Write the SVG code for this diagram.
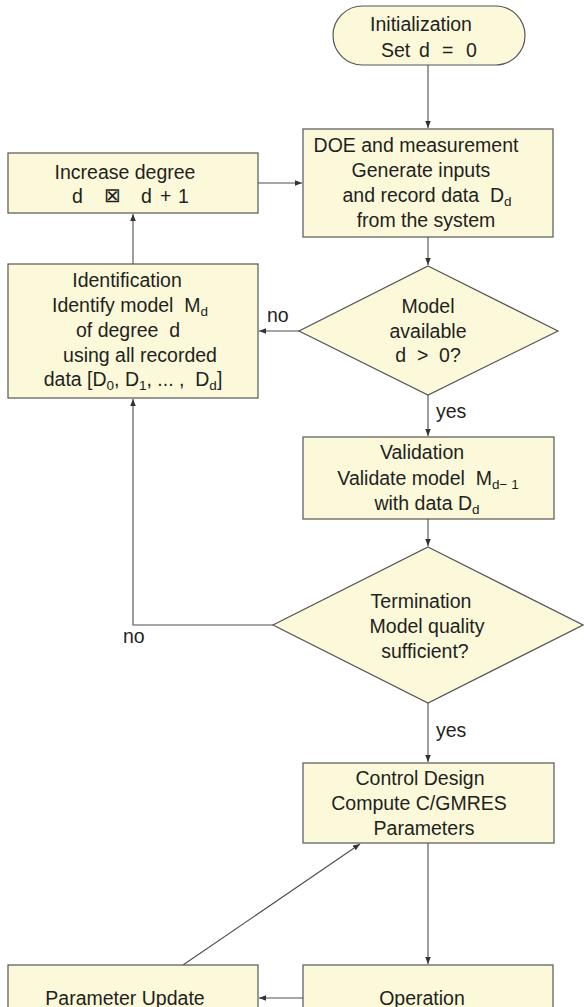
<svg xmlns="http://www.w3.org/2000/svg" width="584" height="1007" viewBox="0 0 584 1007">
<defs>
<style>
.n{fill:#FBF9DA;stroke:#555;stroke-width:1.2}
.t{font-family:"Liberation Sans",Arial,sans-serif;font-size:19.5px;fill:#231F20;text-anchor:middle;white-space:pre}
.l{font-family:"Liberation Sans",Arial,sans-serif;font-size:19.5px;fill:#231F20}
.s{font-size:13.5px}
.c{fill:none;stroke:#4d4d4d;stroke-width:1.1}
</style>
<marker id="ah" viewBox="0 0 10 10" refX="10" refY="5" markerWidth="7" markerHeight="7" markerUnits="userSpaceOnUse" orient="auto">
<path d="M0,1 L10,5 L0,9 z" fill="#333"/>
</marker>
</defs>
<rect width="584" height="1007" fill="#fff"/>
<g id="connectors">
<path class="c" d="M428,65 V128" marker-end="url(#ah)"/>
<path class="c" d="M258,183 H302" marker-end="url(#ah)"/>
<path class="c" d="M428,237 V265" marker-end="url(#ah)"/>
<path class="c" d="M299,331 H259" marker-end="url(#ah)"/>
<path class="c" d="M133,264 V214" marker-end="url(#ah)"/>
<path class="c" d="M428,395 V436" marker-end="url(#ah)"/>
<path class="c" d="M428,519 V546" marker-end="url(#ah)"/>
<path class="c" d="M273,625 H133 V399" marker-end="url(#ah)"/>
<path class="c" d="M428,703 V762" marker-end="url(#ah)"/>
<path class="c" d="M428,843 V964" marker-end="url(#ah)"/>
<path class="c" d="M303,998 H259" marker-end="url(#ah)"/>
<path class="c" d="M183,965 L360,844" marker-end="url(#ah)"/>
<text class="l" x="267" y="322">no</text>
<text class="l" x="436" y="418">yes</text>
<text class="l" x="123" y="643">no</text>
<text class="l" x="436" y="737">yes</text>
</g>
<g id="init">
<rect class="n" x="333" y="6" width="192" height="59" rx="29.5"/>
<text class="t" x="421" y="31">Initialization</text>
<text class="l" x="381" y="57">Set</text>
<text class="l" x="419" y="57">d</text>
<text class="l" x="442" y="57">=</text>
<text class="l" x="466" y="57">0</text>
</g>
<g id="doe">
<rect class="n" x="303" y="129" width="250" height="108"/>
<text class="t" x="416" y="152">DOE and measurement</text>
<text class="t" x="421" y="177">Generate inputs</text>
<text class="t" x="427" y="202">and record data  D<tspan class="s" dy="4">d</tspan></text>
<text class="t" x="426" y="227">from the system</text>
</g>
<g id="increase">
<rect class="n" x="8" y="153" width="250" height="60"/>
<text class="t" x="125" y="179">Increase degree</text>
<text class="l" x="72" y="203">d</text>
<text class="l" x="104" y="202" font-family="DejaVu Sans" font-size="14">⊠</text>
<text class="l" x="141" y="203">d</text>
<text class="l" x="160" y="203">+</text>
<text class="l" x="178" y="203">1</text>
</g>
<g id="identification">
<rect class="n" x="8" y="264" width="250" height="134"/>
<text class="t" x="127" y="287">Identification</text>
<text class="t" x="130" y="312">Identify model  M<tspan class="s" dy="4">d</tspan></text>
<text class="t" x="128" y="337">of degree  d</text>
<text class="t" x="140" y="362">using all recorded</text>
<text class="t" x="133" y="386">data [D<tspan class="s" dy="4">0</tspan><tspan dy="-4">, D</tspan><tspan class="s" dy="4">1</tspan><tspan dy="-4">, ... ,  D</tspan><tspan class="s" dy="4">d</tspan><tspan dy="-4">]</tspan></text>
</g>
<g id="model-available">
<polygon class="n" points="428,266 558,331 428,395 299,331"/>
<text class="t" x="428" y="313">Model</text>
<text class="t" x="428" y="338">available</text>
<text class="t" x="428" y="362">d  &gt;  0?</text>
</g>
<g id="validation">
<rect class="n" x="303" y="437" width="251" height="82"/>
<text class="t" x="422" y="459">Validation</text>
<text class="t" x="428" y="485">Validate model  M<tspan class="s" dy="4">d− 1</tspan></text>
<text class="t" x="427" y="510">with data D<tspan class="s" dy="4">d</tspan></text>
</g>
<g id="termination">
<polygon class="n" points="428,547 583,625 428,703 273,625"/>
<text class="t" x="421" y="608">Termination</text>
<text class="t" x="427" y="633">Model quality</text>
<text class="t" x="425" y="658">sufficient?</text>
</g>
<g id="control-design">
<rect class="n" x="303" y="763" width="251" height="80"/>
<text class="t" x="420" y="785">Control Design</text>
<text class="t" x="419" y="810">Compute C/GMRES</text>
<text class="t" x="424" y="835">Parameters</text>
</g>
<g id="operation">
<rect class="n" x="303" y="965" width="250" height="60"/>
<text class="t" x="422" y="1005">Operation</text>
</g>
<g id="parameter-update">
<rect class="n" x="8" y="965" width="250" height="60"/>
<text class="t" x="125" y="1005">Parameter Update</text>
</g>
</svg>
